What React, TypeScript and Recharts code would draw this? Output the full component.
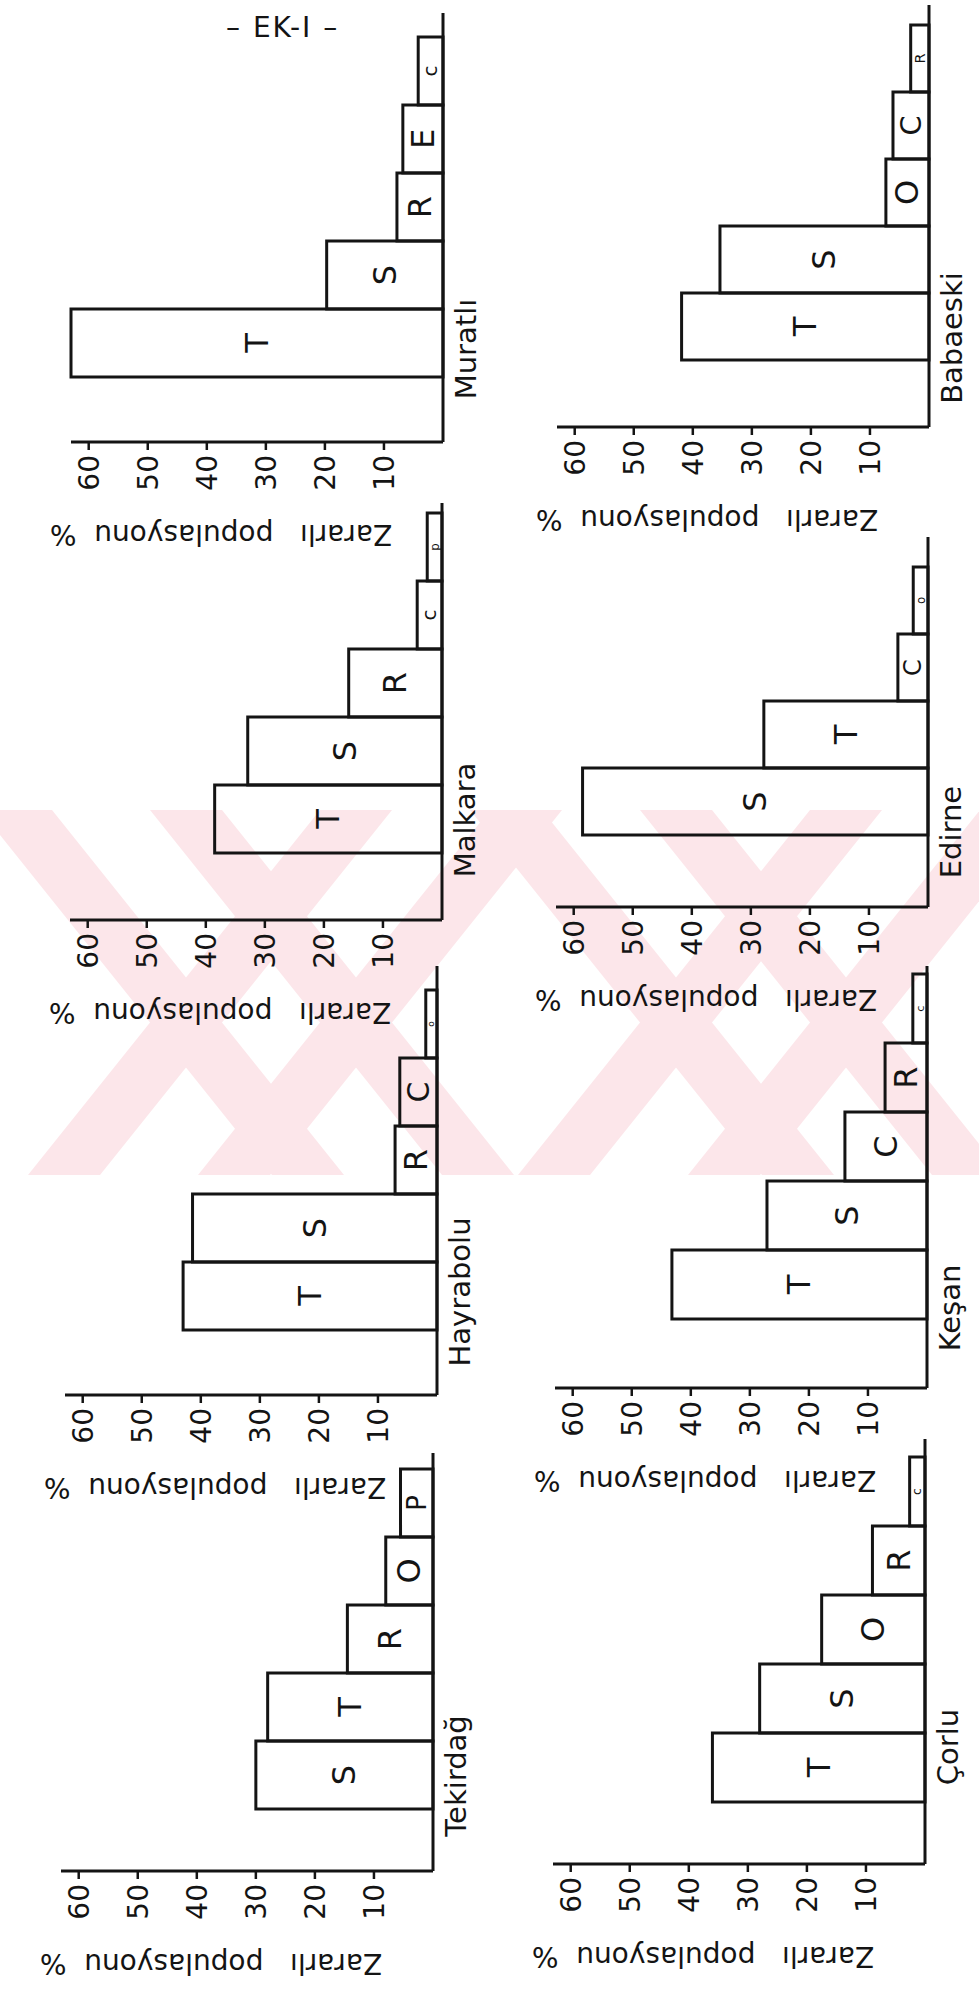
import React from "react";
import { BarChart, Bar, XAxis, YAxis, LabelList, Label } from "recharts";

// pest share (%) per locality, bars listed from the value axis outwards
const tekirdagPests = ["S", "T", "R", "O", "P"];
const tekirdagPct = [30, 28, 14.5, 8, 5.5];

const hayraboluPests = ["T", "S", "R", "C", "o"];
const hayraboluPct = [43, 41.4, 7.1, 6.3, 1.9];

const malkaraPests = ["T", "S", "R", "c", "p"];
const malkaraPct = [38.5, 32.9, 15.8, 4.2, 2.5];

const muratliPests = ["T", "S", "R", "E", "c"];
const muratliPct = [63, 19.7, 7.8, 6.8, 4.2];

const corluPests = ["T", "S", "O", "R", "c"];
const corluPct = [36, 28, 17.5, 8.9, 2.6];

const kesanPests = ["T", "S", "C", "R", "c"];
const kesanPct = [43.2, 27.1, 13.9, 7.1, 2.4];

const edirnePests = ["S", "T", "C", "o"];
const edirnePct = [58.5, 27.8, 5.1, 2.5];

const babaeskiPests = ["T", "S", "O", "C", "R"];
const babaeskiPct = [41.9, 35.4, 7.3, 6.1, 3.1];

const valueTicks = [10, 20, 30, 40, 50, 60];
const yTitle = "Zararlı   populasyonu  %";

const FONT = "'DejaVu Sans', Verdana, sans-serif";
const INK = "#141414";
const DOMAIN_MAX = 63;
const PLOT_H = 372;
const Y_W = 120;
const TOP = 60;
const X_H = 50;

// page is drawn landscape and turned a quarter turn, like the scan
const panels = [
  { name: "Tekirdağ", pests: tekirdagPests, pct: tekirdagPct, x0: 122, base: 433, padL: 62, barW: 68, padR: 16, nameDx: 95 },
  { name: "Çorlu", pests: corluPests, pct: corluPct, x0: 129, base: 925, padL: 62, barW: 69, padR: 18, nameDx: 117 },
  { name: "Hayrabolu", pests: hayraboluPests, pct: hayraboluPct, x0: 598, base: 437, padL: 65, barW: 68, padR: 24, nameDx: 103 },
  { name: "Keşan", pests: kesanPests, pct: kesanPct, x0: 605, base: 927, padL: 69, barW: 69, padR: 8, nameDx: 80 },
  { name: "Malkara", pests: malkaraPests, pct: malkaraPct, x0: 1073, base: 442, padL: 67, barW: 68, padR: 10, nameDx: 100 },
  { name: "Edirne", pests: edirnePests, pct: edirnePct, x0: 1086, base: 928, padL: 72, barW: 67, padR: 30, nameDx: 75 },
  { name: "Muratlı", pests: muratliPests, pct: muratliPct, x0: 1551, base: 443, padL: 65, barW: 68, padR: 24, nameDx: 93 },
  { name: "Babaeski", pests: babaeskiPests, pct: babaeskiPct, x0: 1566, base: 929, padL: 67, barW: 67, padR: 20, nameDx: 89 },
];

// faint pink watermark stripes behind the charts (page coords)
const stripeStarts = [-20, 150, 470, 640];

function Watermark() {
  const top = 810;
  const bottom = 1175;
  const h = bottom - top;
  const w = 72;
  const run = h * 0.8;
  return (
    <svg width={979} height={1993} style={{ position: "absolute", left: 0, top: 0 }}>
      <defs>
        <clipPath id="wm">
          <rect x={0} y={top} width={979} height={h} />
        </clipPath>
      </defs>
      <g clipPath="url(#wm)" fill="#fce6ea">
        {stripeStarts.map((s, i) => (
          <polygon
            key={"a" + i}
            points={`${s},${top} ${s + w},${top} ${s + w + run},${bottom} ${s + run},${bottom}`}
          />
        ))}
        {stripeStarts.map((s, i) => (
          <polygon
            key={"b" + i}
            points={`${s + 340},${top} ${s + 340 + w},${top} ${s + 340 + w - run},${bottom} ${s + 340 - run},${bottom}`}
          />
        ))}
      </g>
    </svg>
  );
}

function BarLetter(props: any) {
  const { x, y, width, height, value } = props;
  const fs = Math.max(9, Math.min(32, height * 0.8));
  return (
    <text
      x={x + width / 2}
      y={y + height / 2}
      textAnchor="middle"
      dominantBaseline="central"
      fontSize={fs}
      fontFamily={FONT}
      fill={INK}
    >
      {value}
    </text>
  );
}

function Panel({ p }: { p: (typeof panels)[number] }) {
  const data = p.pests.map((pest, i) => ({ pest, value: p.pct[i] }));
  const plotW = p.padL + p.pests.length * p.barW + p.padR;
  const width = Y_W + plotW + 10;
  const height = TOP + PLOT_H + X_H;
  return (
    <div style={{ position: "absolute", left: p.x0 - Y_W, top: p.base - PLOT_H - TOP }}>
      <BarChart
        width={width}
        height={height}
        data={data}
        margin={{ top: TOP, right: 10, bottom: 0, left: 0 }}
        barCategoryGap={0}
        barGap={0}
      >
        <XAxis
          dataKey="pest"
          tick={false}
          tickLine={false}
          height={X_H}
          padding={{ left: p.padL, right: p.padR }}
          axisLine={{ stroke: INK, strokeWidth: 3 }}
        >
          <Label
            content={(lp: any) => {
              const vb = lp.viewBox;
              return (
                <text
                  x={vb.x + p.nameDx}
                  y={vb.y + 33}
                  textAnchor="middle"
                  fontSize={29}
                  fontFamily={FONT}
                  fill={INK}
                >
                  {p.name}
                </text>
              );
            }}
          />
        </XAxis>
        <YAxis
          type="number"
          domain={[0, DOMAIN_MAX]}
          ticks={valueTicks}
          width={Y_W}
          tickSize={8}
          tickMargin={5}
          axisLine={{ stroke: INK, strokeWidth: 3 }}
          tickLine={{ stroke: INK, strokeWidth: 2.5 }}
          tick={{ fontSize: 28, fontFamily: FONT, fill: INK }}
        >
          <Label
            content={(lp: any) => {
              const vb = lp.viewBox;
              const cx = vb.x + 28;
              const cy = vb.y + vb.height / 2 - 36;
              return (
                <text
                  x={cx}
                  y={cy}
                  transform={`rotate(-90 ${cx} ${cy})`}
                  textAnchor="middle"
                  dominantBaseline="central"
                  fontSize={28}
                  fontFamily={FONT}
                  fill={INK}
                  style={{ whiteSpace: "pre" }}
                >
                  {yTitle}
                </text>
              );
            }}
          />
        </YAxis>
        <Bar dataKey="value" fill="none" stroke={INK} strokeWidth={3} isAnimationActive={false}>
          <LabelList dataKey="pest" content={BarLetter} />
        </Bar>
      </BarChart>
    </div>
  );
}

export default function App() {
  return (
    <div
      style={{
        position: "absolute",
        left: 0,
        top: 0,
        width: 979,
        height: 1993,
        background: "#ffffff",
        overflow: "hidden",
      }}
    >
      <Watermark />
      <div
        style={{
          position: "absolute",
          left: 0,
          top: 0,
          width: 1993,
          height: 979,
          transformOrigin: "0 0",
          transform: "translateY(1993px) rotate(-90deg)",
        }}
      >
        {panels.map((p) => (
          <Panel key={p.name} p={p} />
        ))}
      </div>
      <div
        style={{
          position: "absolute",
          left: 226,
          top: 11,
          fontFamily: FONT,
          fontSize: 28,
          letterSpacing: 2,
          color: INK,
          whiteSpace: "pre",
        }}
      >
        – EK-I –
      </div>
    </div>
  );
}
